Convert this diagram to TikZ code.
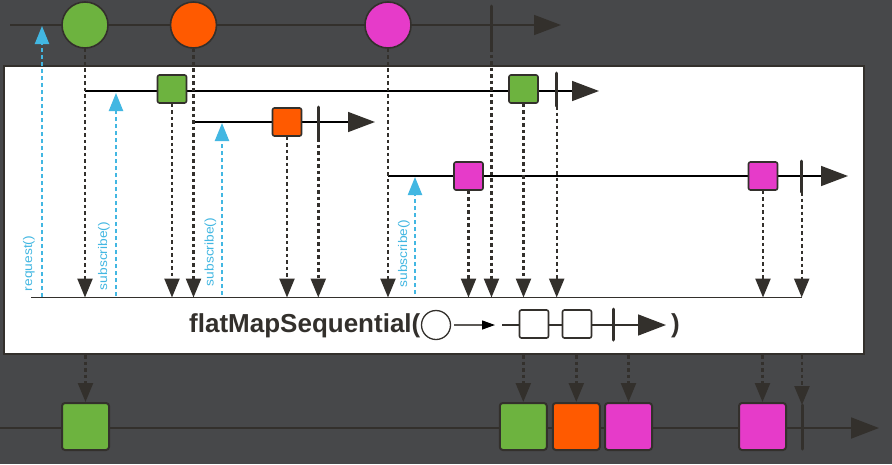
\documentclass[tikz,border=0pt]{standalone}
\usepackage{fontspec}
\setmainfont{Liberation Sans}
\usetikzlibrary{arrows.meta}

\definecolor{bg}{HTML}{47484A}
\definecolor{ink}{HTML}{33302C}
\definecolor{sig}{HTML}{42B7E2}
\definecolor{cgreen}{HTML}{6DB33F}
\definecolor{corange}{HTML}{FF5A00}
\definecolor{cpink}{HTML}{E63BC9}

\tikzset{
  marble/.style={circle, draw=ink, line width=1.6pt, minimum size=46pt, inner sep=0pt},
  item/.style={rectangle, draw=ink, line width=1.6pt, rounded corners=2pt,
    minimum width=29pt, minimum height=28pt, inner sep=0pt},
  bigitem/.style={rectangle, draw=ink, line width=2pt, rounded corners=3pt,
    minimum size=47pt, inner sep=0pt},
  timeline/.style={draw=ink, line width=1.6pt, -{Triangle[length=27pt,width=20pt]}},
  innerline/.style={draw=black, line width=1.5pt, -{Triangle[length=27pt,width=20pt,color=ink]}},
  stopbar/.style={draw=ink, line width=3pt, line cap=round},
  emit/.style={draw=ink, line width=2.4pt, dash pattern=on 3.5pt off 3pt,
    -{Triangle[length=19pt,width=15pt]}},
  signal/.style={draw=sig, line width=2.2pt, dash pattern=on 4pt off 3pt,
    -{Triangle[length=18pt,width=14pt]}},
  siglabel/.style={text=sig, rotate=90, inner sep=0pt,
    font=\fontsize{12.5}{14}\selectfont},
}
\newcommand{\wide}[1]{\scalebox{1.1}[1]{#1}}

\begin{document}
\begin{tikzpicture}[x=1pt,y=-1pt]
  \fill[bg] (0,0) rectangle (892,464);
  \useasboundingbox (0,0) rectangle (892,464);

  % ---------- source sequence ----------
  \coordinate (srcL) at (10,25);
  \coordinate (srcR) at (561,25);
  \draw[timeline] (srcL) -- (srcR);
  \node[marble, fill=cgreen]  (g) at (85,25) {};
  \node[marble, fill=corange] (o) at (193.5,25) {};
  \node[marble, fill=cpink]   (p) at (388,25) {};
  \coordinate (srcEndT) at (491.5,6);
  \coordinate (srcEnd)  at (491.5,48);
  \draw[stopbar] (srcEndT) -- (srcEnd);

  % ---------- operator box ----------
  \node[draw=ink, line width=2pt, fill=white, minimum width=860pt, minimum height=288pt,
        inner sep=0pt, anchor=north west] (box) at (3,65) {};

  % inner sequence 1
  \coordinate (in1L) at (85,91);
  \coordinate (in1R) at (599,91);
  \draw[innerline] (in1L) -- (in1R);
  \node[item, fill=cgreen] (g1) at (172,89) {};
  \node[item, fill=cgreen] (g2) at (523.5,89) {};
  \coordinate (in1EndT) at (556.7,73);
  \coordinate (in1End)  at (556.7,106);
  \draw[stopbar] (in1EndT) -- (in1End);

  % inner sequence 2
  \coordinate (in2L) at (193.5,122);
  \coordinate (in2R) at (375,122);
  \draw[innerline] (in2L) -- (in2R);
  \node[item, fill=corange] (o1) at (287,122) {};
  \coordinate (in2EndT) at (318.3,107);
  \coordinate (in2End)  at (318.3,138);
  \draw[stopbar] (in2EndT) -- (in2End);

  % inner sequence 3
  \coordinate (in3L) at (388,176);
  \coordinate (in3R) at (848,176);
  \draw[innerline] (in3L) -- (in3R);
  \node[item, fill=cpink] (p1) at (468.5,176) {};
  \node[item, fill=cpink] (p2) at (763,176) {};
  \coordinate (in3EndT) at (801.7,161);
  \coordinate (in3End)  at (801.7,192);
  \draw[stopbar] (in3EndT) -- (in3End);

  % collecting line inside the box
  \coordinate (baseL) at (31,297.5);
  \coordinate (baseR) at (801.7,297.5);
  \draw[ink, line width=1.8pt] (baseL) -- (baseR);

  % landing points on the collecting line
  \foreach \n/\x in {a/85,b/172,c/193.5,d/287,e/318.3,f/388,h/468.5,i/491.5,j/523.5,k/556.7,l/763,m/801.7}
    \coordinate (hit\n) at (\x,297.5);

  \draw[emit] (g)      -- (hita);
  \draw[emit] (g1)     -- (hitb);
  \draw[emit] (o)      -- (hitc);
  \draw[emit] (o1)     -- (hitd);
  \draw[emit] (in2End) -- (hite);
  \draw[emit] (p)      -- (hitf);
  \draw[emit] (p1)     -- (hith);
  \draw[emit] (srcEnd) -- (hiti);
  \draw[emit] (g2)     -- (hitj);
  \draw[emit] (in1End) -- (hitk);
  \draw[emit] (p2)     -- (hitl);
  \draw[emit] (in3End) -- (hitm);

  % request / subscribe signals
  \coordinate (rq0) at (42,297);   \coordinate (rq1) at (42,26);
  \coordinate (sa0) at (116,296);  \coordinate (sa1) at (116,93);
  \coordinate (sb0) at (222,295);  \coordinate (sb1) at (222,123);
  \coordinate (sc0) at (415,294);  \coordinate (sc1) at (415,177);
  \draw[signal] (rq0) -- (rq1);
  \draw[signal] (sa0) -- (sa1);
  \draw[signal] (sb0) -- (sb1);
  \draw[signal] (sc0) -- (sc1);
  \node[siglabel] (rql) at (29,263.5) {\wide{request()}};
  \node[siglabel] (sal) at (104,256)  {\wide{subscribe()}};
  \node[siglabel] (sbl) at (210.5,252) {\wide{subscribe()}};
  \node[siglabel] (scl) at (404,253.5) {\wide{subscribe()}};

  % operator signature
  \node[font=\bfseries\fontsize{26}{30}\selectfont, text=ink, anchor=base west, inner sep=0pt]
    (fm) at (189,332) {flatMapSequential(};
  \node[circle, draw=ink, line width=1.3pt, fill=white, minimum size=29pt, inner sep=0pt]
    (fc) at (436,325) {};
  \coordinate (fa1) at (495,325);
  \draw[draw=ink!80, line width=1.3pt, -{Triangle[length=13pt,width=9pt,color=black]}]
    (fc.east) ++(3,0) coordinate (fa0) -- (fa1);
  \coordinate (ftL) at (502,325);
  \coordinate (ftR) at (666,325);
  \draw[ink, line width=1.6pt, -{Triangle[length=28pt,width=21pt]}] (ftL) -- (ftR);
  \node[item, fill=white] (fs1) at (534,324) {};
  \node[item, fill=white] (fs2) at (577,324) {};
  \coordinate (fbT) at (613,309);
  \coordinate (fbB) at (613,340);
  \draw[stopbar] (fbT) -- (fbB);
  \node[font=\bfseries\fontsize{26}{30}\selectfont, text=ink, anchor=base west, inner sep=0pt]
    (fp) at (671,332) {)};

  % ---------- resulting sequence ----------
  \coordinate (outL) at (0,428);
  \coordinate (outR) at (879,428);
  \draw[draw=ink, line width=1.8pt, -{Triangle[length=28pt,width=21pt]}] (outL) -- (outR);
  \node[bigitem, fill=cgreen]  (r1) at (85.5,426.5) {};
  \node[bigitem, fill=cgreen]  (r2) at (523.3,426.5) {};
  \node[bigitem, fill=corange] (r3) at (576.3,426.5) {};
  \node[bigitem, fill=cpink]   (r4) at (628.5,426.5) {};
  \node[bigitem, fill=cpink]   (r5) at (762.5,426.5) {};
  \coordinate (rEndT) at (802,405);
  \coordinate (rEnd)  at (802,449);
  \draw[stopbar] (rEndT) -- (rEnd);

  \foreach \n/\x in {1/85.5,2/523.3,3/576.3,4/628.5,5/762.5}
    \coordinate (out\n) at (\x,355);
  \coordinate (out6) at (802,355);
  \draw[emit] (out1) -- (r1.north);
  \draw[emit] (out2) -- (r2.north);
  \draw[emit] (out3) -- (r3.north);
  \draw[emit] (out4) -- (r4.north);
  \draw[emit] (out5) -- (r5.north);
  \draw[emit] (out6) -- (rEndT);
\end{tikzpicture}
\end{document}
